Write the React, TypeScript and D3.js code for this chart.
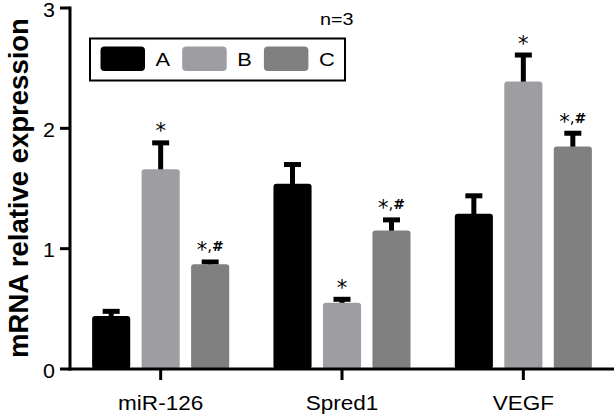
import React from "react";
import * as d3 from "d3";

const categories = ["miR-126", "Spred1", "VEGF"];
const groups = ["A", "B", "C"];
const valuesA = [0.44, 1.54, 1.29];
const valuesB = [1.66, 0.55, 2.39];
const valuesC = [0.87, 1.15, 1.85];
const errA = [0.06, 0.18, 0.17];
const errB = [0.24, 0.05, 0.24];
const errC = [0.04, 0.11, 0.13];
const annB = ["*", "*", "*"];
const annC = ["*,#", "*,#", "*,#"];
const yTicks = [0, 1, 2, 3];
const colors = ["#000000", "#9e9ea2", "#808080"];

const W = 616;
const H = 414;
const FONT = "'Liberation Sans', Arial, Helvetica, sans-serif";

export default function App() {
  const x0 = d3.scaleBand<string>().domain(categories).range([70, 614]).paddingInner(0).paddingOuter(0);
  const x1 = d3
    .scaleBand<string>()
    .domain(groups)
    .range([0, x0.bandwidth()])
    .paddingInner(0.23)
    .paddingOuter(0.447);
  const y = d3.scaleLinear().domain([0, 3]).range([369, 8]);

  const vals = [valuesA, valuesB, valuesC];
  const errs = [errA, errB, errC];
  const anns = [null, annB, annC];
  const bw = x1.bandwidth();

  return (
    <svg
      width={W}
      height={H}
      style={{ position: "absolute", left: 0, top: 0, background: "#fff" }}
      fontFamily={FONT}
    >
      <rect x={0} y={0} width={W} height={H} fill="#fff" />
      {/* bars */}
      {categories.map((cat, ci) =>
        groups.map((g, gi) => {
          const v = vals[gi][ci];
          const e = errs[gi][ci];
          const bx = (x0(cat) as number) + (x1(g) as number);
          const cx = bx + bw / 2;
          const top = y(v);
          const et = y(v + e);
          const ann = anns[gi] ? (anns[gi] as string[])[ci] : null;
          return (
            <g key={cat + g}>
              <line x1={cx} x2={cx} y1={top + 2} y2={et + 2} stroke="#000" strokeWidth={5} />
              <rect x={cx - 8.5} y={et} width={17} height={5} fill="#000" />
              <rect x={bx} y={top} width={bw} height={y(0) - top} fill={colors[gi]} rx={3} />
              {ann && (
                <text
                  x={cx}
                  y={et - 2}
                  textAnchor="middle"
                  fontFamily="'DejaVu Sans', sans-serif"
                  fill="#000"
                >
                  <tspan fontSize={21}>*</tspan>
                  {ann.length > 1 && (
                    <>
                      <tspan fontSize={15} dy={-6}>,</tspan>
                      <tspan fontSize={14} fontWeight="bold">#</tspan>
                    </>
                  )}
                </text>
              )}
            </g>
          );
        })
      )}
      {/* y axis */}
      <line x1={70} x2={70} y1={y(3) - 1.5} y2={y(0) + 1.5} stroke="#000" strokeWidth={3} />
      {yTicks.map((t) => (
        <g key={t}>
          <line x1={60} x2={70} y1={y(t)} y2={y(t)} stroke="#000" strokeWidth={3} />
          <text
            transform={`translate(55,${y(t) + 8.5}) scale(1.1,1)`}
            textAnchor="end"
            fontSize={19.5}
            fill="#000"
          >
            {t}
          </text>
        </g>
      ))}
      {/* x axis */}
      <line x1={68.5} x2={614} y1={369} y2={369} stroke="#000" strokeWidth={3} />
      {categories.map((c) => {
        const cx = (x0(c) as number) + x0.bandwidth() / 2;
        return (
          <g key={c}>
            <line x1={cx} x2={cx} y1={369} y2={380} stroke="#000" strokeWidth={3} />
            <text
              transform={`translate(${cx},410) scale(1.1,1)`}
              textAnchor="middle"
              fontSize={20.5}
              fill="#000"
            >
              {c}
            </text>
          </g>
        );
      })}
      {/* y title */}
      <text
        transform="translate(28,188) rotate(-90)"
        textAnchor="middle"
        fontSize={27.5}
        fontWeight="bold"
        fill="#000"
      >
        mRNA relative expression
      </text>
      {/* n=3 */}
      <text transform="translate(320,25) scale(1.2,1)" fontSize={16.5} fill="#000">
        n=3
      </text>
      {/* legend */}
      <rect x={90} y={38.5} width={255} height={42} fill="none" stroke="#000" strokeWidth={2} />
      {groups.map((g, gi) => {
        const lx = 100.5 + gi * 81.7;
        return (
          <g key={g}>
            <rect x={lx} y={46.5} width={44.5} height={24.5} rx={4} fill={colors[gi]} />
            <text
              transform={`translate(${lx + 55},65.5) scale(1.15,1)`}
              fontSize={19}
              fill="#000"
            >
              {g}
            </text>
          </g>
        );
      })}
    </svg>
  );
}
